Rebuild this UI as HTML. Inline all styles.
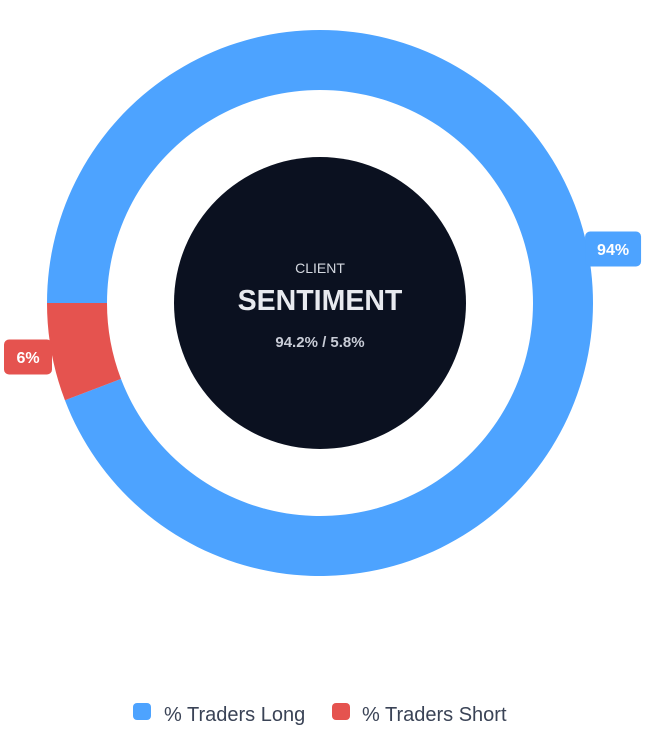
<!DOCTYPE html>
<html><head><meta charset="utf-8"><style>
html,body{margin:0;padding:0;background:#fff;width:647px;height:742px;overflow:hidden}
svg{display:block;font-family:"Liberation Sans","DejaVu Sans",sans-serif}
</style></head><body>
<svg id="chart" width="647" height="742">
<g id="slices"></g>
<circle cx="320" cy="303" r="146" fill="#0b1120"/>
<text x="320" y="273" text-anchor="middle" font-size="14" fill="#d4d8e0">CLIENT</text>
<text x="320" y="310" text-anchor="middle" font-size="28.5" font-weight="bold" fill="#e8eaef">SENTIMENT</text>
<text id="ratio" x="320" y="347" text-anchor="middle" font-size="15" font-weight="bold" fill="#c8ccd6"></text>
<g id="labels"></g>
<g>
<rect x="133" y="703" width="18" height="17" rx="4" fill="#4da3ff"/>
<text x="164" y="721" font-size="20" fill="#3a4356">% Traders Long</text>
<rect x="332" y="703" width="18" height="17" rx="4" fill="#e5534f"/>
<text x="362" y="721" font-size="20" fill="#3a4356">% Traders Short</text>
</g>
</svg>
<script>
const categories = ["% Traders Long", "% Traders Short"];
const values = [94.2, 5.8];
const colors = ["#4da3ff", "#e5534f"];
const cx = 320, cy = 303, R = 273, r = 213, startDeg = 270;
const ns = "http://www.w3.org/2000/svg";
function pt(deg, rad){const a=deg*Math.PI/180;return [cx+rad*Math.sin(a), cy-rad*Math.cos(a)];}
const total = values.reduce((a,b)=>a+b,0);
let ang = startDeg;
const g = document.getElementById('slices'), lg = document.getElementById('labels');
values.forEach((v,i)=>{
  const sweep = v/total*360, a0 = ang, a1 = ang+sweep;
  const large = sweep>180?1:0;
  const p0=pt(a0,R), p1=pt(a1,R), q1=pt(a1,r), q0=pt(a0,r);
  const path=document.createElementNS(ns,'path');
  path.setAttribute('d',`M${p0[0]},${p0[1]} A${R},${R} 0 ${large} 1 ${p1[0]},${p1[1]} L${q1[0]},${q1[1]} A${r},${r} 0 ${large} 0 ${q0[0]},${q0[1]} Z`);
  path.setAttribute('fill',colors[i]);
  
  
  g.appendChild(path);
  const mid=(a0+a1)/2;
  const lp=pt(mid,R+25);
  const w=i===0?56:48, h=35;
  let x=lp[0]-w/2, y=lp[1]-h/2;
  x=Math.max(4,Math.min(647-w-4,x));
  const rect=document.createElementNS(ns,'rect');
  rect.setAttribute('x',x);rect.setAttribute('y',y);rect.setAttribute('width',w);rect.setAttribute('height',h);
  rect.setAttribute('rx',5);rect.setAttribute('fill',colors[i]);
  
  
  lg.appendChild(rect);
  const t=document.createElementNS(ns,'text');
  t.setAttribute('x',x+w/2);t.setAttribute('y',y+h/2+6);t.setAttribute('text-anchor','middle');
  t.setAttribute('font-size','16');t.setAttribute('font-weight','bold');t.setAttribute('fill','#fff');
  t.textContent=Math.round(v)+'%';
  
  
  lg.appendChild(t);
  ang=a1;
});
document.getElementById('ratio').textContent = values[0].toFixed(1)+'% / '+values[1].toFixed(1)+'%';
</script>
</body></html>
